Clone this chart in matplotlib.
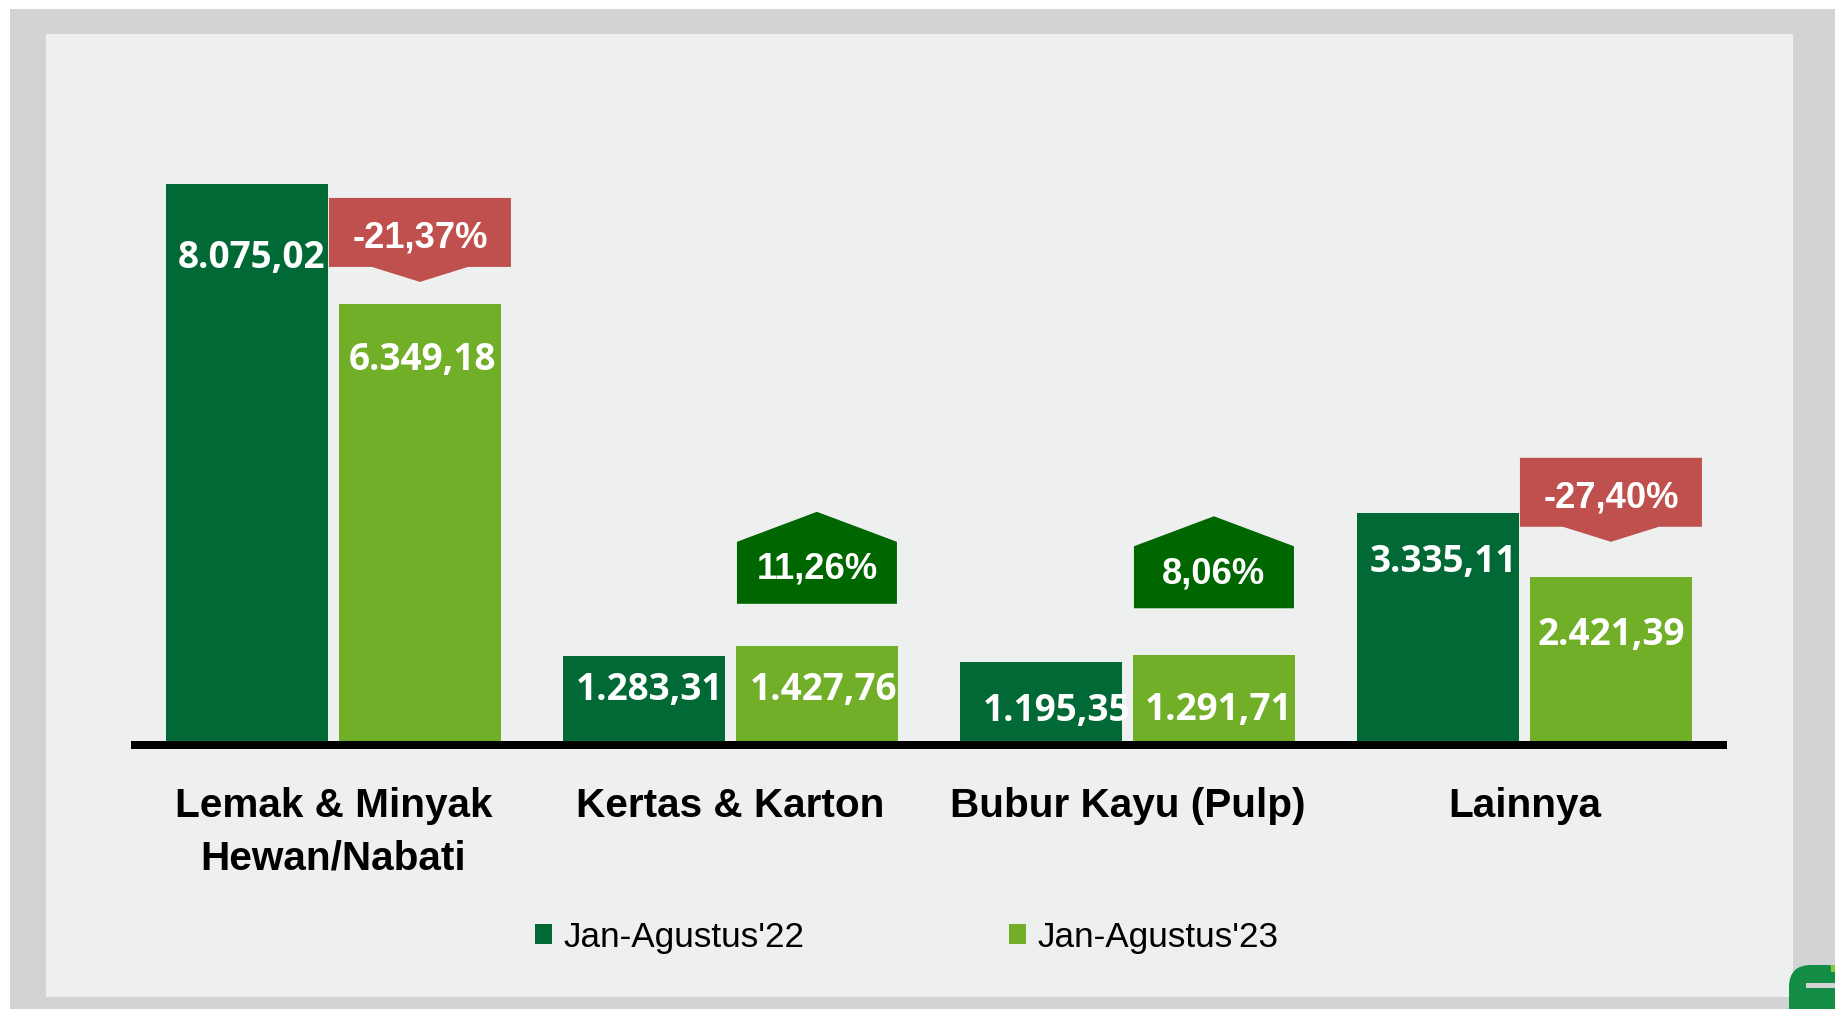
import numpy as np
import matplotlib
matplotlib.use("Agg")
import matplotlib.pyplot as plt
import matplotlib.transforms as mtransforms
from matplotlib.patches import Rectangle, Polygon, Patch, FancyBboxPatch
from matplotlib import font_manager

# data
categories = ["Lemak & Minyak\nHewan/Nabati", "Kertas & Karton", "Bubur Kayu (Pulp)", "Lainnya"]
series_names = ["Jan-Agustus'22", "Jan-Agustus'23"]
values_22 = [8075.02, 1283.31, 1195.35, 3335.11]
values_23 = [6349.18, 1427.76, 1291.71, 2421.39]
labels_22 = ["8.075,02", "1.283,31", "1.195,35", "3.335,11"]
labels_23 = ["6.349,18", "1.427,76", "1.291,71", "2.421,39"]
change_labels = ["-21,37%", "11,26%", "8,06%", "-27,40%"]
change_pct = [-21.37, 11.26, 8.06, -27.40]

# layout (pixels)
W, H = 1835, 1009
dark = "#006935"
light = "#72AF28"
red = "#C0504D"
up_green = "#006600"
panel = "#EEF0EF"
border = "#D3D3D3"

lab_drop_22 = [71, 31, 46, 46]      # label centre below bar top
lab_drop_23 = [53, 41, 52, 55]
lab_dx_22 = [4, 5, 15, 5]
lab_dx_23 = [3, 7, 5, 0]
callout_gap = [22, 42, 47, 35]

names = {f.name for f in font_manager.fontManager.ttflist}
has_narrow = "Liberation Sans Narrow" in names
narrow = "Liberation Sans Narrow" if has_narrow else "Liberation Sans"
s_leg = 1.0 if has_narrow else 0.82
s_cat = 1.0 if has_narrow else 0.85
s_pct = 1.0 if has_narrow else 0.95

fig = plt.figure(figsize=(W / 100, H / 100), dpi=100, facecolor="white")


def px_rect(x0, y0, x1, y1, color, z=-3):
    r = Rectangle((x0 / W, 1 - y1 / H), (x1 - x0) / W, (y1 - y0) / H,
                  transform=fig.transFigure, facecolor=color, edgecolor="none", zorder=z)
    fig.patches.append(r)


px_rect(10, 9, W, H, border, -5)
px_rect(46, 34, 1793, 997, panel, -4)

# small logo in the corner
logo = FancyBboxPatch((1789 / W, 1 - 1030 / H), 60 / W, 65 / H,
                      boxstyle="round,pad=0,rounding_size=0.012",
                      transform=fig.transFigure, facecolor="#138C45", edgecolor="none",
                      mutation_aspect=W / H, zorder=-3)
fig.patches.append(logo)
px_rect(1806, 983, W, 988, border, -2)
px_rect(1831, 965, W, 972, "#8CC63F", -2)

ax = fig.add_axes([135 / W, (H - 745) / H, 1588 / W, (745 - 34) / H])
ax.set_facecolor("none")
px_per_unit = 0.06947
ax.set_xlim(-0.5, 3.5)
ax.set_ylim(0, (745 - 34) / px_per_unit)
for s in ax.spines.values():
    s.set_visible(False)
ax.set_xticks([])
ax.set_yticks([])

x = np.arange(len(categories))
w = 162 / 397.3
off = 86.5 / 397.3

ax.bar(x - off, values_22, width=w, color=dark, zorder=2, label=series_names[0])
ax.bar(x + off, values_23, width=w, color=light, zorder=2, label=series_names[1])
ax.axhline(0, color="black", lw=8 * 0.72, zorder=3, clip_on=False)

val_font = dict(family="Open Sans", weight="bold", size=26.6, color="white")
for i in range(len(categories)):
    ax.annotate(labels_22[i], xy=(x[i] - off, values_22[i]),
                xytext=(lab_dx_22[i], -(lab_drop_22[i] + 13)), textcoords="offset pixels",
                ha="center", va="baseline", zorder=5, **val_font)
    ax.annotate(labels_23[i], xy=(x[i] + off, values_23[i]),
                xytext=(lab_dx_23[i], -(lab_drop_23[i] + 13)), textcoords="offset pixels",
                ha="center", va="baseline", zorder=5, **val_font)

# change callouts
pct_font = dict(family=narrow, weight="bold", size=27.6 * s_pct, color="white")
for i in range(len(categories)):
    anchor = mtransforms.ScaledTranslation(x[i] + off, values_23[i], ax.transData)
    tr = mtransforms.Affine2D() + anchor
    g = callout_gap[i]
    if change_pct[i] < 0:
        hw = 91
        verts = [(0, g), (-48, g + 15), (-hw, g + 15), (-hw, g + 84),
                 (hw, g + 84), (hw, g + 15), (48, g + 15)]
        col = red
        text_c = g + 15 + 34.5 - 2
    else:
        hw = 80
        verts = [(-hw, g), (hw, g), (hw, g + 62), (0, g + 92), (-hw, g + 62)]
        col = up_green
        text_c = g + 38
    ax.add_patch(Polygon(verts, closed=True, facecolor=col, edgecolor="none",
                         transform=tr, zorder=4, clip_on=False))
    ax.annotate(change_labels[i], xy=(x[i] + off, values_23[i]),
                xytext=(0, text_c - 13.5 * s_pct), textcoords="offset pixels",
                ha="center", va="baseline", zorder=6, annotation_clip=False, **pct_font)

# category labels
cat_tr = mtransforms.blended_transform_factory(ax.transData, fig.transFigure)
for i, c in enumerate(categories):
    ax.text(x[i], 1 - 787 / H, c, transform=cat_tr, ha="center", va="top",
            family=narrow, weight="bold", size=34.3 * s_cat, linespacing=1.5,
            color="black", clip_on=False)

handles = [Patch(facecolor=dark, edgecolor="none"), Patch(facecolor=light, edgecolor="none")]
fig.legend(handles, series_names, loc="center", bbox_to_anchor=(906.5 / W, 1 - 937 / H),
           ncol=2, frameon=False, prop=dict(family=narrow, size=30.8 * s_leg),
           handlelength=0.4 / s_leg, handleheight=0.4 / s_leg, handletextpad=0.26 / s_leg,
           columnspacing=4.79 / s_leg)

fig.savefig("out.png", dpi=100, facecolor="white")
